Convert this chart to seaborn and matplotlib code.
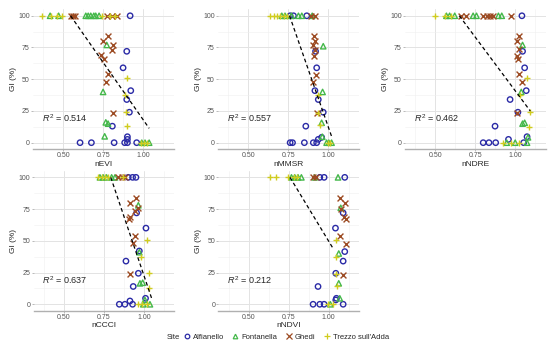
import matplotlib
matplotlib.use("Agg")
import matplotlib.pyplot as plt
import seaborn as sns
import numpy as np
import pandas as pd
from matplotlib.lines import Line2D

# sites, styles
site_names = {"A": "Alfianello", "F": "Fontanella", "G": "Ghedi", "T": "Trezzo sull'Adda"}
site_colors = {"A": "#2a2aa6", "F": "#44b84a", "G": "#9c4a22", "T": "#d0cc1e"}
site_markers = {"A": "o", "F": "^", "G": "x", "T": "+"}

panel_names = ["nEVI", "nMMSR", "nNDRE", "nCCCI", "nNDVI"]
r2_values = [0.514, 0.557, 0.462, 0.637, 0.212]
fit_slope = [-180.6, -362.0, -169.2, -373.2, -208.0]
fit_intercept = [198.4, 374.6, 210.1, 395.8, 257.6]
fit_xmax = [1.036, 1.025, 1.094, 1.048, 1.027]

# nEVI
evi_site = list("TTFTFTGGGFFFFFFTGTGTGA" "GGFGGAGGAGTGAFTAATGFFATFAA" "AAAAAATFTFTF")
evi_x = [0.369, 0.421, 0.417, 0.46, 0.47, 0.494, 0.546, 0.56, 0.571, 0.64, 0.655, 0.671,
         0.69, 0.702, 0.723, 0.744, 0.775, 0.79, 0.806, 0.82, 0.8375, 0.917,
         0.779, 0.75, 0.771, 0.8125, 0.802, 0.896, 0.733, 0.754, 0.873, 0.779, 0.9, 0.765,
         0.921, 0.748, 0.883, 0.896, 0.9125, 0.89, 0.8125, 0.765, 0.779, 0.806, 0.896,
         0.758, 0.9, 0.9,
         0.604, 0.675, 0.817, 0.883, 0.9, 0.958, 0.983, 0.99, 1.004, 1.01, 1.025, 1.036]
evi_gi = [100, 100, 100, 100, 100, 100, 100, 100, 100, 100, 100, 100,
          100, 100, 100, 100, 100, 100, 100, 100, 100, 100,
          84, 80, 77, 77, 73, 72, 69, 66, 59, 54, 51, 48, 41, 40, 37.5, 34, 24, 24.4,
          23, 16, 15, 13, 13, 5, 4.7, 2.6,
          0, 0, 0, 0, 0, 0, 0, 0, 0, 0, 0, 0]

# nMMSR
mmsr_site = list("TTTTFTFTAFAFFAGFG" "GGGFAGGAGGAFTAAGTFTAAFA" "AAAAAFTFTF")
mmsr_x = [0.638, 0.659, 0.68, 0.70, 0.71, 0.721, 0.73, 0.742, 0.762, 0.77, 0.783, 0.814,
          0.835, 0.866, 0.893, 0.90, 0.917,
          0.913, 0.917, 0.907, 0.969, 0.921, 0.917, 0.913, 0.928, 0.921, 0.907, 0.917,
          0.965, 0.934, 0.938, 0.969, 0.932, 0.934, 0.959, 0.948, 0.86, 0.959, 0.963, 0.938,
          0.762, 0.777, 0.851, 0.907, 0.928, 0.99, 1.0, 1.004, 1.012, 1.021]
mmsr_gi = [100, 100, 100, 100, 100, 100, 100, 100, 100, 100, 100, 100,
           100, 100, 100, 100, 100,
           84, 80, 77, 76, 72, 73, 68, 59, 53, 48, 41, 40, 37.5, 34, 24, 23.6, 23,
           15.7, 14, 13, 4.2, 4.7, 2.6,
           0, 0, 0, 0, 0, 0, 0, 0, 0, 0]

# nNDRE
ndre_site = list("TTFFTFGGFFGGGGFFGA" "GGFGAGGAGTGAFTATAGFFATAFA" "AAATFTFTAF")
ndre_x = [0.5, 0.559, 0.57, 0.59, 0.60, 0.622, 0.664, 0.695, 0.737, 0.758, 0.80, 0.821,
          0.842, 0.863, 0.895, 0.916, 0.975, 1.042,
          1.025, 1.01, 1.046, 1.025, 1.046, 1.01, 1.015, 1.059, 1.021, 1.074, 1.042, 1.069,
          1.038, 1.032, 0.968, 1.095, 1.017, 1.01, 1.059, 1.046, 0.874, 1.088, 1.074, 1.08,
          0.958,
          0.80, 0.836, 0.878, 0.926, 0.947, 0.975, 1.0, 1.021, 1.053, 1.074]
ndre_gi = [100, 100, 100, 100, 100, 100, 100, 100, 100, 100, 100, 100,
           100, 100, 100, 100, 100, 100,
           84, 80, 77, 73.5, 72, 68, 66, 59, 54, 51, 48, 41, 40, 37.5, 34, 24.4, 24, 23,
           15.7, 15, 13, 12.6, 4.7, 4.2, 2.6,
           0, 0, 0, 0, 0, 0, 0, 0, 0, 0]

# nCCCI
ccci_site = list("TFTFTFTFFGGTGAAA" "GGFGGAGGAGTGAFTATAGFFATAFA" "AAATTFTF")
ccci_x = [0.715, 0.725, 0.735, 0.745, 0.756, 0.766, 0.777, 0.798, 0.819, 0.84, 0.86, 0.87,
          0.881, 0.902, 0.929, 0.95,
          0.95, 0.9125, 0.965, 0.96, 0.944, 0.954, 0.9125, 0.908, 1.0125, 0.944, 1.017,
          0.933, 0.971, 0.971, 0.979, 0.8875, 1.031, 0.965, 0.9125, 0.975, 0.992, 0.933,
          1.031, 1.01, 1.006, 0.9125,
          0.846, 0.881, 0.929, 0.965, 0.985, 0.996, 1.017, 1.0375]
ccci_gi = [100, 100, 100, 100, 100, 100, 100, 100, 100, 100, 100, 100,
           100, 100, 100, 100,
           84, 80, 78, 76, 73.5, 72, 69, 67, 60, 54, 51, 48, 42, 41, 37, 34, 24.4, 24.4,
           23.6, 16.5, 17, 14, 13, 4.7, 3.4, 2.6,
           0, 0, 0, 0, 0, 0, 0, 0]

# nNDVI
ndvi_site = list("TTTFTFTFFGFGAAFA" "GGFGAGGAGTGAFTAATGFTAAFA" "AAATFTA")
ndvi_x = [0.631, 0.673, 0.746, 0.767, 0.78, 0.7875, 0.80, 0.808, 0.829, 0.902, 0.912,
          0.923, 0.944, 0.971, 1.058, 1.1,
          1.069, 1.1, 1.075, 1.079, 1.09, 1.096, 1.106, 1.042, 1.073, 1.048, 1.11, 1.1,
          1.0625, 1.048, 1.09, 1.044, 1.048, 1.09, 1.0625, 1.054, 0.933, 1.048, 1.069, 1.044,
          0.902, 0.944, 0.971, 0.996, 1.01, 1.027, 1.09]
ndvi_gi = [100, 100, 100, 100, 100, 100, 100, 100, 100, 100, 100,
           100, 100, 100, 100, 100,
           84, 80, 76, 75, 72, 69, 67, 60, 54, 51, 47.5, 41.5, 40, 37, 34, 24.4, 23.6, 23,
           16.5, 14.7, 14, 4.7, 4.7, 3.4,
           0, 0, 0, 0, 0, 0, 0]

panel_sites = [evi_site, mmsr_site, ndre_site, ccci_site, ndvi_site]
panel_x = [evi_x, mmsr_x, ndre_x, ccci_x, ndvi_x]
panel_gi = [evi_gi, mmsr_gi, ndre_gi, ccci_gi, ndvi_gi]

sns.set_style("white")
plt.rcParams["font.family"] = ["Liberation Sans", "DejaVu Sans"]
plt.rcParams["mathtext.fontset"] = "custom"
plt.rcParams["mathtext.rm"] = "Liberation Sans"
plt.rcParams["mathtext.it"] = "Liberation Sans:italic"

fig = plt.figure(figsize=(5.5, 3.49), dpi=100)

# panel positions in figure fraction
lefts = [0.060, 0.396, 0.736, 0.061, 0.397]
bottoms = [0.573, 0.573, 0.573, 0.110, 0.110]
w, h = 0.256, 0.40

for i, name in enumerate(panel_names):
    ax = fig.add_axes([lefts[i], bottoms[i], w, h])
    df = pd.DataFrame({"x": panel_x[i], "GI": panel_gi[i], "site": panel_sites[i]})
    ax.set_xlim(0.31, 1.19)
    ax.set_ylim(-5, 105)
    ax.set_xticks([0.5, 0.75, 1.0])
    ax.set_xticklabels(["0.50", "0.75", "1.00"])
    ax.set_yticks([0, 25, 50, 75, 100])
    ax.set_xticks([0.375, 0.625, 0.875, 1.125], minor=True)
    ax.set_yticks([12.5, 37.5, 62.5, 87.5], minor=True)
    ax.grid(True, which="major", color="#e3e3e3", linewidth=0.7)
    ax.grid(True, which="minor", color="#efefef", linewidth=0.4)
    ax.set_axisbelow(True)

    for code in ["A", "F", "G", "T"]:
        sub = df[df["site"] == code]
        c = site_colors[code]
        if site_markers[code] in ("o", "^"):
            sns.scatterplot(data=sub, x="x", y="GI", ax=ax, marker=site_markers[code],
                            s=15, color=c, facecolor="none", edgecolor=c,
                            linewidth=1.0, zorder=3)
        else:
            sns.scatterplot(data=sub, x="x", y="GI", ax=ax, marker=site_markers[code],
                            s=18, color=c, linewidth=1.0, zorder=3)

    # fitted line, dropped above GI = 100
    x0 = (fit_intercept[i] - 100) / -fit_slope[i]
    xs = np.array([x0, fit_xmax[i]])
    ax.plot(xs, fit_intercept[i] + fit_slope[i] * xs, color="black", linewidth=0.9,
            dashes=(3, 2.2), zorder=4)

    ax.text(0.365, 19, rf"$R^2$ = {r2_values[i]:.3f}", fontsize=6.5, va="center", ha="left")

    for s in ["top", "right", "left"]:
        ax.spines[s].set_visible(False)
    ax.spines["bottom"].set_color("#b0b0b0")
    ax.spines["bottom"].set_linewidth(1.0)
    ax.tick_params(axis="both", which="major", labelsize=5, colors="#b0b0b0",
                   labelcolor="#555555", length=1.5, width=0.6, pad=0.8,
                   left=True, bottom=True)
    ax.tick_params(axis="both", which="minor", length=0)
    ax.set_xlabel(name, fontsize=6, labelpad=1)
    ax.set_ylabel("GI (%)", fontsize=6, labelpad=1)

# legend
handles = []
for code in ["A", "F", "G", "T"]:
    m = site_markers[code]
    c = site_colors[code]
    if m in ("o", "^"):
        handles.append(Line2D([], [], linestyle="none", marker=m, markersize=3.3,
                              markerfacecolor="none", markeredgecolor=c, markeredgewidth=0.9,
                              label=site_names[code]))
    else:
        handles.append(Line2D([], [], linestyle="none", marker=m, markersize=3.8,
                              color=c, markeredgewidth=0.9, label=site_names[code]))

fig.text(0.3036, 0.033, "Site", fontsize=5.5, va="center", ha="left")
fig.legend(handles=handles, loc="center left", bbox_to_anchor=(0.334, 0.033), ncol=4,
           frameon=False, fontsize=5.5, handlelength=0.8, handletextpad=0.38,
           columnspacing=1.1, borderaxespad=0, borderpad=0)

fig.savefig("out.png", dpi=100)
